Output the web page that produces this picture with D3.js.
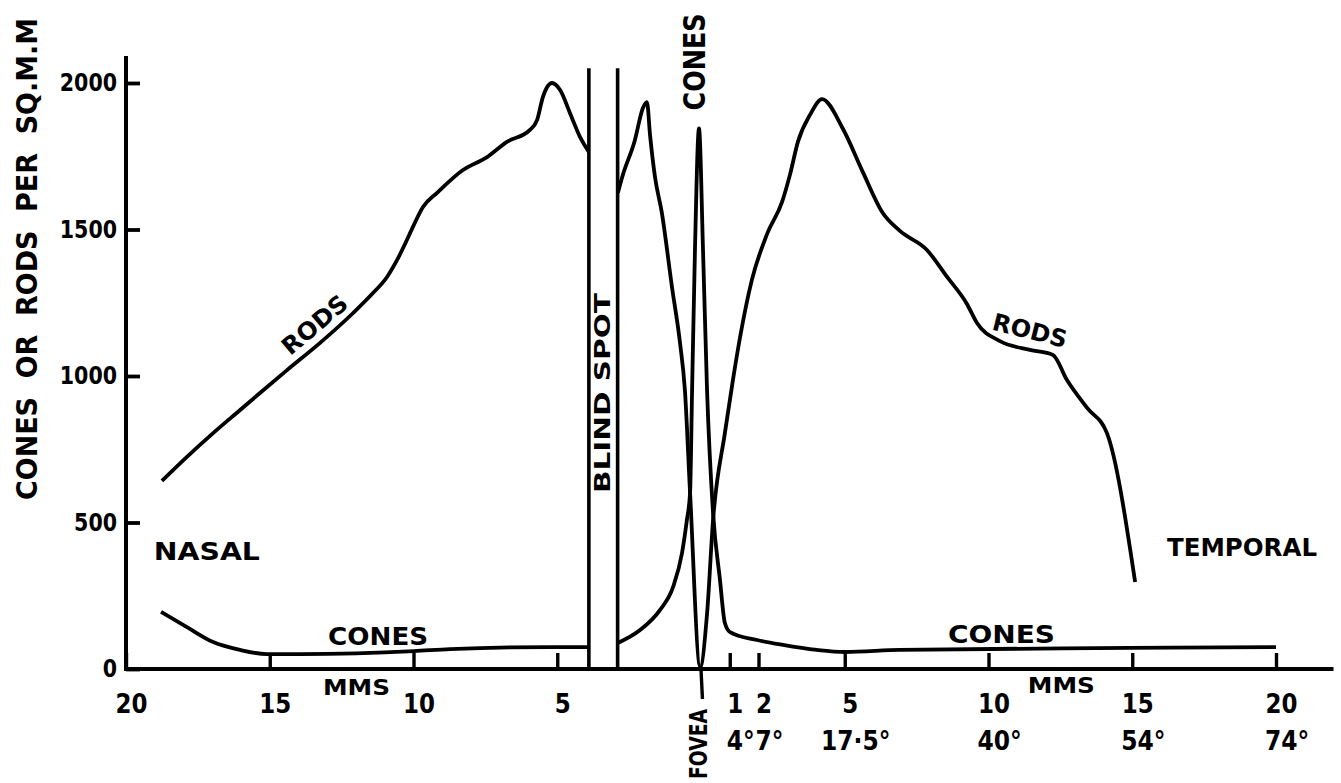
<!DOCTYPE html>
<html>
<head>
<meta charset="utf-8">
<script src="https://cdn.jsdelivr.net/npm/d3@7"></script>
<style>
  body { margin: 0; background: #fff; }
  svg text { font-family: "DejaVu Sans Condensed", "DejaVu Sans", sans-serif; font-stretch: condensed; font-weight: bold; fill: #000; }
</style>
</head>
<body>
<script>
// Values: [mm from fovea (nasal side negative), count per sq mm]
const rodsNasal = [
  [-18.75, 642], [-17.88, 724], [-16.97, 805], [-16.03, 884], [-15.34, 942],
  [-14.40, 1020], [-13.25, 1113], [-12.10, 1215], [-11.41, 1283], [-10.92, 1338],
  [-10.57, 1396], [-10.23, 1464], [-10.02, 1509], [-9.67, 1577], [-9.18, 1625],
  [-8.28, 1703], [-7.44, 1747], [-6.75, 1799], [-5.95, 1840], [-5.70, 1874],
  [-5.50, 1952], [-5.18, 2000], [-4.90, 1976], [-4.56, 1898], [-4.21, 1816],
  [-3.90, 1765]
];
const rodsTemporal = [
  [-2.89, 1625], [-2.75, 1676], [-2.30, 1805], [-2.02, 1915], [-1.88, 1935],
  [-1.77, 1820], [-1.60, 1679], [-1.36, 1556], [-1.01, 1304], [-0.73, 1113],
  [-0.56, 952], [-0.38, 601], [-0.03, 7], [0.21, 188], [0.42, 509],
  [0.83, 805], [1.11, 986], [1.36, 1133], [1.77, 1328], [2.30, 1485],
  [2.82, 1594], [3.10, 1689], [3.37, 1799], [3.79, 1891], [4.21, 1945],
  [4.94, 1843], [5.63, 1696], [6.30, 1560], [6.92, 1495], [7.86, 1430],
  [8.56, 1338], [9.25, 1246], [9.60, 1181], [10.40, 1119], [11.44, 1089],
  [12.24, 1072], [12.73, 986], [13.43, 891], [14.12, 805], [15.10, 297]
];
const conesNasal = [
  [-18.78, 195], [-17.88, 143], [-16.97, 92], [-16.03, 65], [-15.10, 51],
  [-13.95, 51], [-9.98, 61], [-8.73, 68], [-5.25, 75], [-3.90, 75]
];
const conesTemporal = [
  [-2.89, 89], [-2.12, 133], [-1.43, 201], [-0.97, 280], [-0.66, 396],
  [-0.49, 509], [-0.38, 601], [-0.31, 952], [-0.21, 1430], [-0.07, 1845],
  [0.07, 1430], [0.21, 952], [0.42, 532], [0.66, 304], [0.83, 157],
  [1.01, 126], [1.95, 99], [2.85, 82], [4.03, 65], [5.01, 58],
  [6.92, 65], [14.92, 72], [20.0, 75]
];
const blindSpot = [-3.9, -2.9];   // edges of the blind spot, mm
const blindSpotTop = 2050;
const yTicks = [0, 500, 1000, 1500, 2000];
const mmTicks = [-20, -15, -10, -5, 1, 2, 5, 10, 15, 20];
const degTicks = [1, 2, 5, 10, 15, 20];
const degLabels = ["4°", "7°", "17·5°", "40°", "54°", "74°"];

// Set margins and scales
var margin = { top: 83, right: 65, bottom: 114, left: 126 },
    width = 1341 - margin.left - margin.right,
    height = 783 - margin.top - margin.bottom;
var xScale = d3.scaleLinear().domain([-20, 20]).range([0, width]);
var yScale = d3.scaleLinear().domain([0, 2000]).range([height, 0]);

var svg = d3.select("body").append("svg")
    .attr("width", width + margin.left + margin.right)
    .attr("height", height + margin.top + margin.bottom)
    .append("g")
    .attr("transform", "translate(" + margin.left + "," + margin.top + ")");

var line = d3.line()
    .curve(d3.curveMonotoneX)
    .x(d => xScale(d[0]))
    .y(d => yScale(d[1]));

// Curves
[rodsNasal, rodsTemporal, conesNasal, conesTemporal].forEach(function (s) {
    svg.append("path")
        .datum(s)
        .attr("fill", "none")
        .attr("stroke", "#000")
        .attr("stroke-width", 3.8)
        .attr("stroke-linejoin", "round")
        .attr("d", line);
});

// Blind spot edges
svg.selectAll(".blind")
    .data(blindSpot)
    .enter()
    .append("line")
    .attr("x1", d => xScale(d)).attr("x2", d => xScale(d))
    .attr("y1", yScale(0)).attr("y2", yScale(blindSpotTop))
    .attr("stroke", "#000")
    .attr("stroke-width", 3.6);

// Fovea pointer below the axis
svg.append("line")
    .attr("x1", xScale(0)).attr("x2", xScale(0.05))
    .attr("y1", yScale(0)).attr("y2", yScale(0) + 30)
    .attr("stroke", "#000")
    .attr("stroke-width", 3.4);

// Y axis: ticks point inward, labels on the left
var yAxis = svg.append("g")
    .attr("class", "y axis")
    .call(d3.axisLeft(yScale).tickValues(yTicks).tickSizeInner(-14).tickSizeOuter(0).tickPadding(9)
        .tickFormat(d => String(d)));
yAxis.select(".domain").remove();
yAxis.selectAll("line").attr("stroke-width", 3.8);
yAxis.selectAll("text")
    .attr("font-size", "24px").attr("font-family", null)
    .attr("textLength", d => String(d).length * 14.3)
    .attr("lengthAdjust", "spacingAndGlyphs");

svg.append("line")
    .attr("x1", 0).attr("x2", 0)
    .attr("y1", yScale(0) + 2).attr("y2", yScale(2092))
    .attr("stroke", "#000").attr("stroke-width", 4);

// X axis (mm from fovea)
var xAxis = svg.append("g")
    .attr("class", "x axis")
    .attr("transform", "translate(0," + height + ")")
    .call(d3.axisBottom(xScale).tickValues(mmTicks).tickSizeInner(-16).tickSizeOuter(0).tickPadding(26)
        .tickFormat(d => Math.abs(d)));
xAxis.select(".domain").remove();
xAxis.selectAll("line").attr("stroke-width", 3.4);
xAxis.selectAll("text")
    .attr("font-size", "26px").attr("font-family", null).attr("dx", 5)
    .attr("textLength", d => String(Math.abs(d)).length * 16)
    .attr("lengthAdjust", "spacingAndGlyphs");

svg.append("line")
    .attr("x1", -2).attr("x2", xScale(22))
    .attr("y1", height).attr("y2", height)
    .attr("stroke", "#000").attr("stroke-width", 4);

// Degree labels under the temporal mm ticks
svg.selectAll(".deg")
    .data(degTicks)
    .enter()
    .append("text")
    .attr("x", d => xScale(d) + 11)
    .attr("y", height + 81)
    .attr("text-anchor", "middle")
    .attr("font-size", "26px")
    .text((d, i) => degLabels[i]);

// Plain labels
function label(txt, x, y, size, len, anchor) {
    var t = svg.append("text")
        .attr("x", x).attr("y", y)
        .attr("font-size", size + "px")
        .attr("text-anchor", anchor || "start")
        .text(txt);
    if (len) t.attr("textLength", len).attr("lengthAdjust", "spacingAndGlyphs");
    return t;
}
label("NASAL", xScale(-19.03), yScale(372), 25, 106);
label("TEMPORAL", xScale(16.21), yScale(386), 25, 150);
label("CONES", xScale(-12.97), yScale(82), 25, 100);
label("CONES", xScale(8.59), yScale(89), 25, 107);
label("MMS", xScale(-13.15), height + 26, 21, 67);
label("MMS", xScale(11.37), height + 24, 21, 67);

// Rotated labels
function rlabel(txt, x, y, angle, size, len) {
    svg.append("text")
        .attr("transform", `translate(${x},${y}) rotate(${angle})`)
        .attr("text-anchor", "middle")
        .attr("dominant-baseline", "central")
        .attr("font-size", size + "px")
        .attr("textLength", len)
        .attr("lengthAdjust", "spacingAndGlyphs")
        .text(txt);
}
rlabel("RODS", xScale(-13.43), yScale(1174), -40, 24, 78);
rlabel("RODS", xScale(11.44), yScale(1154), 14, 24, 76);
rlabel("BLIND SPOT", xScale(-3.4), yScale(942), -90, 21, 200);
rlabel("CONES", xScale(-0.24), yScale(2072), -90, 30, 97);
rlabel("FOVEA", xScale(-0.07), height + 75, -90, 25, 70);

// Y axis title
svg.append("text")
    .attr("transform", "rotate(-90)")
    .attr("x", -(259 - margin.top))
    .attr("y", 27 - margin.left)
    .attr("text-anchor", "middle")
    .attr("dominant-baseline", "central")
    .attr("font-size", "28px")
    .style("white-space", "pre")
    .attr("textLength", 482)
    .attr("lengthAdjust", "spacingAndGlyphs")
    .text("CONES  OR  RODS  PER  SQ.M.M");
</script>
</body>
</html>
